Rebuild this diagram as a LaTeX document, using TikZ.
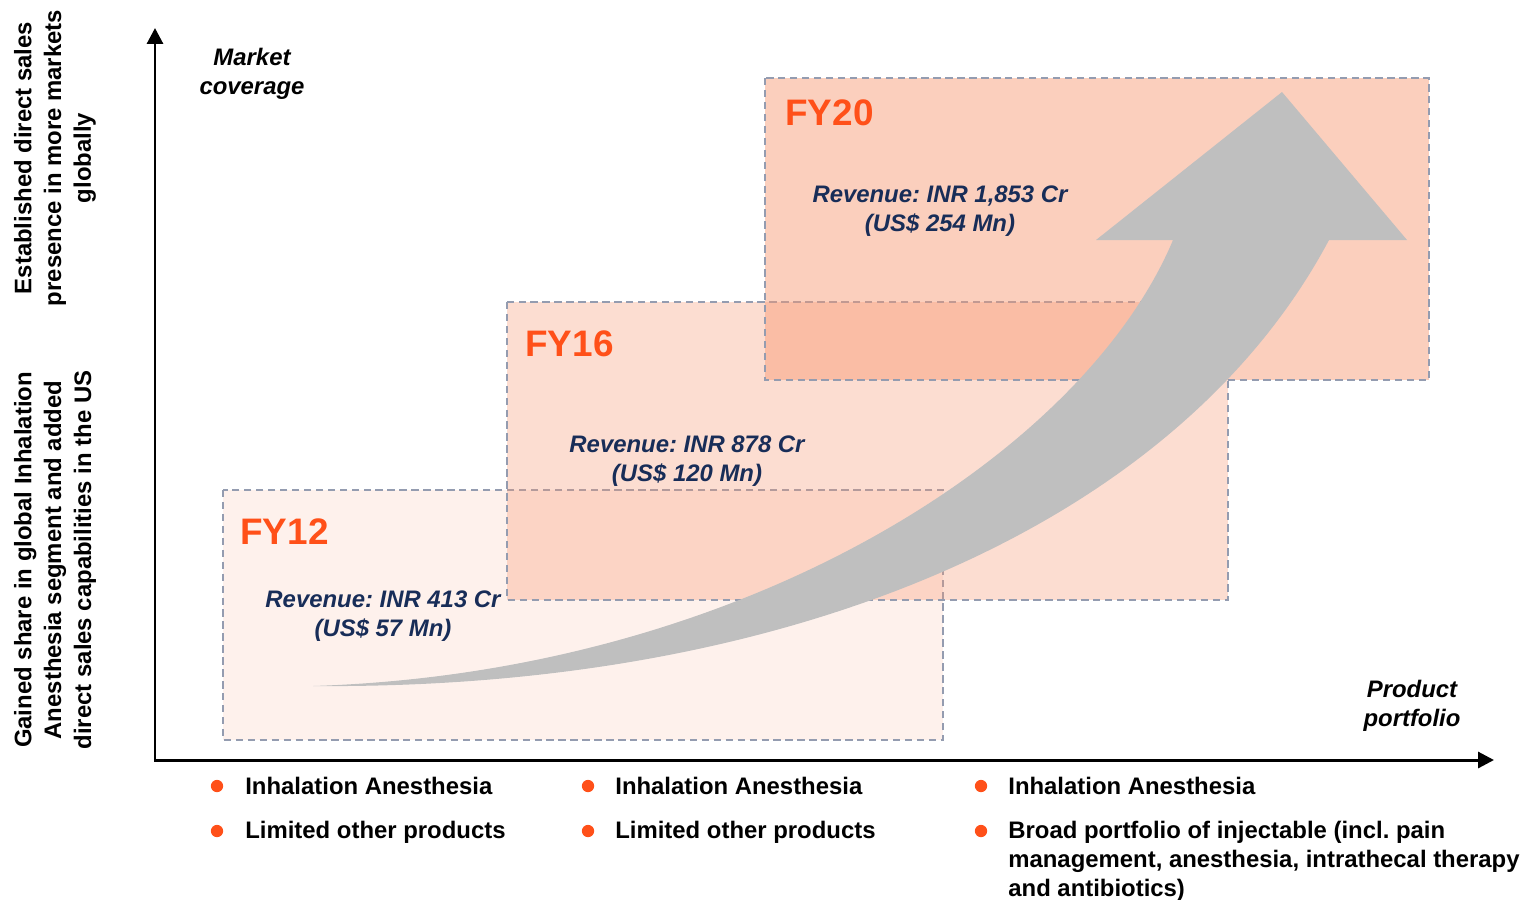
\documentclass[tikz,border=0pt]{standalone}
\usepackage{fontspec}
\setmainfont{Liberation Sans}
\usetikzlibrary{arrows.meta,positioning}
\definecolor{fyorange}{RGB}{255,80,25}
\definecolor{revnavy}{RGB}{24,45,88}
\definecolor{boxfill}{RGB}{247,150,112}
\definecolor{boxline}{RGB}{148,156,176}
\definecolor{arrowgray}{RGB}{191,191,191}
\frenchspacing

\begin{document}
\begin{tikzpicture}[x=0.02cm,y=-0.02cm,
  txt/.style={font=\fontsize{13.6}{16.4}\selectfont\bfseries, inner sep=0pt},
  axislabel/.style={font=\fontsize{13.6}{16.4}\selectfont\bfseries\itshape, inner sep=0pt, align=center},
  sidelabel/.style={font=\fontsize{13.6}{17}\selectfont\bfseries, inner sep=0pt, align=center, rotate=90},
  fylabel/.style={font=\fontsize{21}{24}\selectfont\bfseries, text=fyorange, anchor=west, inner sep=0pt},
  revenue/.style={font=\fontsize{13.6}{16.4}\selectfont\bfseries\itshape, text=revnavy, inner sep=0pt, align=center},
  yearbox/.style={draw=boxline, line width=0.85pt, dash pattern=on 4.2pt off 2.6pt, fill=boxfill},
  bulletdot/.style={circle, fill=fyorange, minimum size=7pt, inner sep=0pt},
  axis/.style={line width=1.7pt, {Triangle[length=9pt,width=9pt]}-{Triangle[length=9pt,width=9pt]}}]
  \useasboundingbox (0,0) rectangle (1523,899);

  % year boxes, later ones on top
  \draw[yearbox, fill opacity=0.13] (223,490) rectangle (943,740);
  \draw[yearbox, fill opacity=0.32] (507,302) rectangle (1228,600);
  \draw[yearbox, fill opacity=0.46] (765,78) rectangle (1429,380);

  % growth arrow
  \fill[arrowgray] (313,686) .. controls (750,672) and (1085,450) .. (1173,240)
    -- (1096,240) -- (1282,92) -- (1407,240) -- (1329,240)
    .. controls (1180,520) and (800,690) .. (313,686) -- cycle;

  % axes
  \coordinate (origin) at (155,760);
  \coordinate (ytip) at (155,28);
  \coordinate (xtip) at (1494,760);
  \draw[axis] (ytip) -- (origin) -- (xtip);
  \node[axislabel] (ycap) at (252,74) {Market\\coverage};
  \node[axislabel] (xcap) at (1412,706) {Product\\portfolio};

  % side notes
  \node[sidelabel] (sidetop) at (55,158) {Established direct sales\\presence in more markets\\globally};
  \node[sidelabel] (sidelow) at (55,560) {Gained share in global Inhalation\\Anesthesia segment and added\\direct sales capabilities in the US};

  % year labels and revenue
  \node[fylabel] (fy12) at (240,532) {FY12};
  \node[fylabel] (fy16) at (525,344) {FY16};
  \node[fylabel] (fy20) at (785,113) {FY20};
  \node[revenue] (rev12) at (383,616) {Revenue: INR 413 Cr\\(US\$ 57 Mn)};
  \node[revenue] (rev16) at (687,461) {Revenue: INR 878 Cr\\(US\$ 120 Mn)};
  \node[revenue] (rev20) at (940,211) {Revenue: INR 1,853 Cr\\(US\$ 254 Mn)};

  % portfolio bullets
  \node[bulletdot] (dota1) at (217,786) {};
  \node[bulletdot] (dota2) at (217,831) {};
  \node[bulletdot] (dotb1) at (588,786) {};
  \node[bulletdot] (dotb2) at (588,831) {};
  \node[bulletdot] (dotc1) at (981,786) {};
  \node[bulletdot] (dotc2) at (981,831) {};
  \node[txt, anchor=west] (itema1) at (245,786) {Inhalation Anesthesia};
  \node[txt, anchor=west] (itema2) at (245,832) {Limited other products};
  \node[txt, anchor=west] (itemb1) at (615,786) {Inhalation Anesthesia};
  \node[txt, anchor=west] (itemb2) at (615,832) {Limited other products};
  \node[txt, anchor=west] (itemc1) at (1008,786) {Inhalation Anesthesia};
  \node[txt, anchor=west, align=left] (itemc2) at (1008,861)
    {Broad portfolio of injectable (incl. pain\\management, anesthesia, intrathecal therapy\\and antibiotics)};
\end{tikzpicture}
\end{document}
